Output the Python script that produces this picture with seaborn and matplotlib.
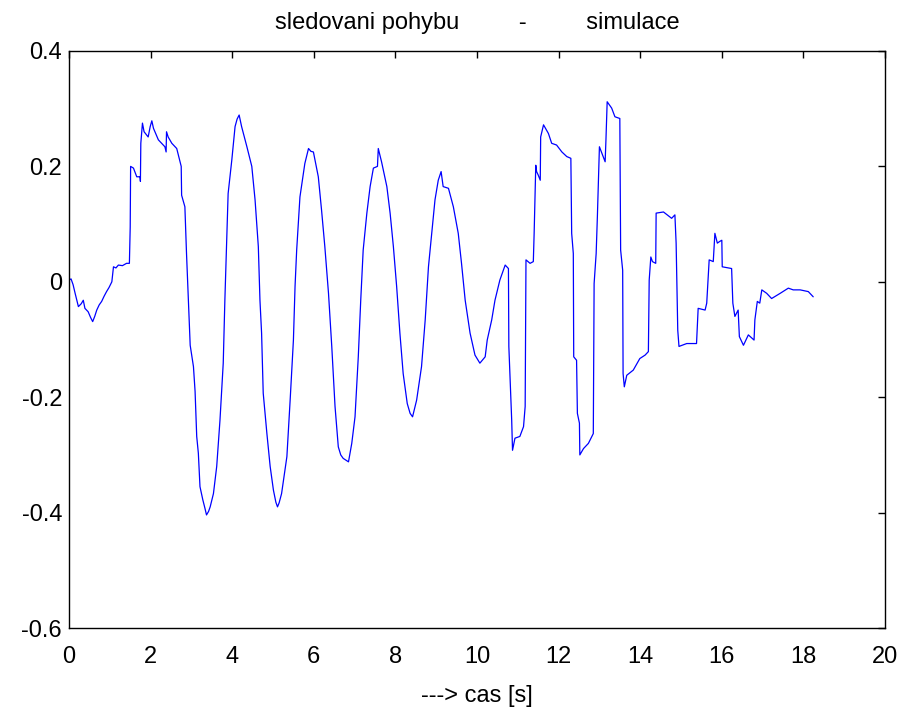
import pandas as pd
import matplotlib
matplotlib.use("Agg")
import matplotlib.pyplot as plt
import seaborn as sns

# time samples [s]
cas = [
    0.00, 0.05, 0.10, 0.15, 0.23, 0.30, 0.35, 0.39, 0.47, 0.53, 0.58, 0.63, 0.68, 0.74,
    0.80, 0.86, 0.92, 0.98, 1.05, 1.09, 1.15, 1.21, 1.31, 1.41, 1.48, 1.50, 1.51, 1.58,
    1.66, 1.74, 1.75, 1.76, 1.80, 1.84, 1.94, 1.99, 2.03, 2.07, 2.19, 2.35, 2.38, 2.39,
    2.43, 2.52, 2.64, 2.72, 2.75, 2.76, 2.84, 2.88, 2.92, 2.97, 3.05, 3.09, 3.13, 3.17,
    3.21, 3.28, 3.33, 3.37, 3.42, 3.46, 3.54, 3.62, 3.70, 3.78, 3.82, 3.87, 3.90, 3.99,
    4.07, 4.12, 4.17, 4.23, 4.36, 4.48, 4.56, 4.64, 4.68, 4.72, 4.76, 4.85, 4.93, 5.01,
    5.07, 5.11, 5.15, 5.21, 5.34, 5.42, 5.50, 5.54, 5.58, 5.66, 5.78, 5.87, 5.93, 5.99,
    6.11, 6.19, 6.27, 6.36, 6.44, 6.52, 6.60, 6.66, 6.72, 6.85, 6.93, 7.01, 7.09, 7.15,
    7.21, 7.30, 7.38, 7.46, 7.56, 7.58, 7.66, 7.79, 7.87, 7.95, 8.03, 8.11, 8.19, 8.29,
    8.36, 8.42, 8.52, 8.64, 8.73, 8.81, 8.89, 8.97, 9.05, 9.12, 9.17, 9.30, 9.42, 9.54,
    9.62, 9.71, 9.83, 9.95, 10.07, 10.20, 10.25, 10.36, 10.44, 10.56, 10.69, 10.77, 10.78,
    10.85, 10.87, 10.93, 11.05, 11.14, 11.18, 11.20, 11.30, 11.38, 11.40, 11.44, 11.46,
    11.50, 11.55, 11.56, 11.63, 11.75, 11.83, 11.95, 12.08, 12.20, 12.30, 12.32, 12.36,
    12.37, 12.44, 12.46, 12.51, 12.52, 12.61, 12.73, 12.85, 12.87, 12.92, 12.95, 13.00,
    13.14, 13.16, 13.19, 13.30, 13.38, 13.50, 13.52, 13.57, 13.58, 13.61, 13.67, 13.83,
    13.99, 14.12, 14.20, 14.22, 14.26, 14.30, 14.38, 14.39, 14.57, 14.77, 14.85, 14.88,
    14.92, 14.95, 15.14, 15.38, 15.42, 15.59, 15.63, 15.67, 15.69, 15.79, 15.83, 15.89,
    15.95, 16.00, 16.01, 16.24, 16.27, 16.32, 16.40, 16.43, 16.53, 16.65, 16.79, 16.81,
    16.87, 16.93, 16.98, 17.10, 17.22, 17.43, 17.63, 17.75, 17.92, 18.12, 18.24,
]

# position signal
poloha = [
    0.003, 0.005, -0.005, -0.020, -0.043, -0.038, -0.032, -0.046, -0.052, -0.062, -0.069, -0.060, -0.049, -0.040,
    -0.034, -0.025, -0.017, -0.010, 0.000, 0.026, 0.024, 0.029, 0.028, 0.032, 0.032, 0.095, 0.200, 0.197,
    0.182, 0.182, 0.174, 0.240, 0.275, 0.260, 0.251, 0.269, 0.279, 0.266, 0.246, 0.234, 0.225, 0.260,
    0.251, 0.240, 0.231, 0.208, 0.200, 0.150, 0.130, 0.049, -0.020, -0.110, -0.147, -0.190, -0.268, -0.297,
    -0.355, -0.378, -0.392, -0.404, -0.398, -0.390, -0.367, -0.320, -0.240, -0.141, -0.032, 0.084, 0.153, 0.211,
    0.269, 0.282, 0.289, 0.269, 0.234, 0.200, 0.142, 0.061, -0.032, -0.089, -0.193, -0.263, -0.320, -0.361,
    -0.382, -0.390, -0.383, -0.367, -0.303, -0.205, -0.101, -0.008, 0.055, 0.147, 0.205, 0.231, 0.226, 0.225,
    0.182, 0.124, 0.061, -0.020, -0.112, -0.216, -0.286, -0.300, -0.306, -0.312, -0.280, -0.234, -0.130, -0.032,
    0.055, 0.119, 0.165, 0.197, 0.200, 0.231, 0.208, 0.165, 0.119, 0.061, -0.008, -0.089, -0.159, -0.211,
    -0.228, -0.234, -0.205, -0.147, -0.066, 0.026, 0.084, 0.142, 0.176, 0.191, 0.165, 0.162, 0.130, 0.084,
    0.032, -0.032, -0.089, -0.127, -0.141, -0.130, -0.101, -0.066, -0.032, 0.003, 0.029, 0.023, -0.112,
    -0.240, -0.292, -0.271, -0.268, -0.251, -0.216, 0.038, 0.032, 0.035, 0.084, 0.202, 0.191,
    0.185, 0.176, 0.251, 0.272, 0.257, 0.240, 0.237, 0.225, 0.217, 0.214, 0.084, 0.049,
    -0.130, -0.136, -0.228, -0.245, -0.300, -0.289, -0.280, -0.263, -0.003, 0.049, 0.113, 0.234,
    0.208, 0.246, 0.312, 0.301, 0.286, 0.283, 0.055, 0.020, -0.159, -0.182, -0.162, -0.153,
    -0.133, -0.127, -0.121, 0.003, 0.043, 0.035, 0.032, 0.119, 0.121, 0.110, 0.116, 0.067,
    -0.084, -0.112, -0.107, -0.107, -0.046, -0.049, -0.037, 0.015, 0.038, 0.035, 0.084, 0.067,
    0.070, 0.072, 0.026, 0.023, -0.037, -0.060, -0.049, -0.095, -0.110, -0.092, -0.101, -0.066,
    -0.034, -0.037, -0.014, -0.020, -0.029, -0.020, -0.011, -0.014, -0.014, -0.017, -0.026,
]

x_ticks = [0, 2, 4, 6, 8, 10, 12, 14, 16, 18, 20]
y_ticks = [-0.6, -0.4, -0.2, 0, 0.2, 0.4]
y_labels = ["-0.6", "-0.4", "-0.2", "0", "0.2", "0.4"]

df = pd.DataFrame({"cas": cas, "poloha": poloha})

sns.set_style("white")
plt.rcParams["font.family"] = ["Liberation Sans", "DejaVu Sans"]
plt.rcParams["text.color"] = "black"
plt.rcParams["axes.labelcolor"] = "black"

fig = plt.figure(figsize=(9.08, 7.07), dpi=100)
ax = fig.add_axes([0.076, 0.1117, 0.8987, 0.8162])

sns.lineplot(data=df, x="cas", y="poloha", color="#0000ff", linewidth=0.9,
             estimator=None, sort=False, ax=ax)

ax.set_xlim(0, 20)
ax.set_ylim(-0.6, 0.4)
ax.set_xticks(x_ticks)
ax.set_yticks(y_ticks)
ax.set_yticklabels(y_labels)
ax.tick_params(direction="in", length=5, width=1, top=True, right=True,
               labelsize=17, colors="black")
ax.tick_params(axis="x", pad=13)
ax.tick_params(axis="y", pad=5)
for s in ax.spines.values():
    s.set_visible(True)
    s.set_color("black")
    s.set_linewidth(1)

ax.set_title("sledovani pohybu         -         simulace", fontsize=17, pad=16,
             color="black")
ax.set_xlabel("---> cas [s]", fontsize=17, labelpad=12)
ax.set_ylabel("")

plt.savefig("out.png", dpi=100)
